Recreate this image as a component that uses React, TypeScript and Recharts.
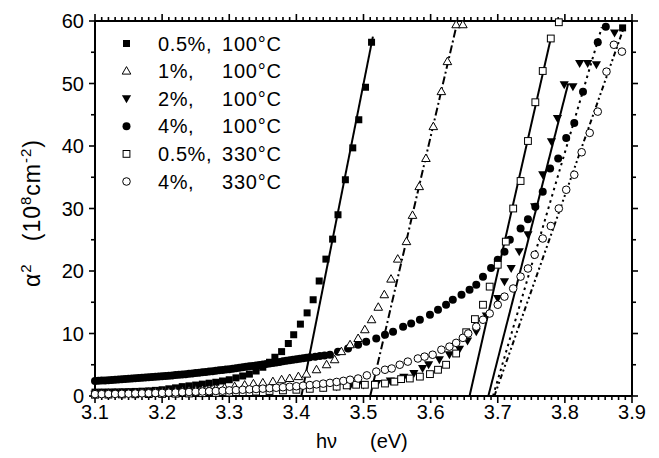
import React from 'react';
import { ScatterChart, Scatter, XAxis, YAxis, ReferenceLine } from 'recharts';

const FONT = '"Liberation Sans", Arial, Helvetica, sans-serif';
const W = 659;
const H = 458;

// ---------------- data ----------------
const seriesNames = ['0.5%, 100°C', '1%, 100°C', '2%, 100°C', '4%, 100°C', '0.5%, 330°C', '4%, 330°C'];

const sq05_100: number[][] = [
  [3.10,0.62],[3.11,0.63],[3.12,0.64],[3.13,0.66],[3.14,0.68],[3.15,0.70],[3.16,0.73],[3.17,0.77],[3.18,0.82],[3.19,0.90],
  [3.20,1.00],[3.21,1.15],[3.22,1.30],[3.23,1.50],[3.24,1.62],[3.25,1.75],[3.26,1.90],[3.27,2.05],[3.28,2.20],[3.29,2.40],
  [3.30,2.60],[3.31,2.90],[3.32,3.20],[3.33,3.50],[3.34,4.00],[3.35,4.60],[3.36,5.40],[3.368,6.20],[3.378,7.10],[3.388,8.40],
  [3.396,9.80],[3.406,11.5],[3.416,13.3],[3.425,15.4],[3.434,18.4],[3.444,21.9],[3.454,25.1],[3.462,29.0],[3.473,34.6],
  [3.484,39.7],[3.493,44.2],[3.503,49.4],[3.512,56.6],[3.886,58.9],
];

const tri1_100: number[][] = [
  [3.10,0.40],[3.11,0.42],[3.12,0.44],[3.13,0.46],[3.14,0.48],[3.15,0.50],[3.16,0.53],[3.17,0.56],[3.18,0.60],[3.19,0.64],
  [3.20,0.68],[3.21,0.72],[3.22,0.77],[3.23,0.82],[3.24,0.88],[3.25,0.95],[3.26,1.02],[3.27,1.10],[3.28,1.20],[3.293,1.30],
  [3.308,1.50],[3.323,1.75],[3.336,1.95],[3.35,2.10],[3.365,2.30],[3.378,2.60],[3.39,2.80],[3.403,3.10],[3.415,3.50],[3.43,4.20],
  [3.445,5.00],[3.457,5.80],[3.467,7.10],[3.48,8.20],[3.492,9.20],[3.502,10.6],[3.512,12.2],[3.522,14.2],[3.531,16.2],[3.541,18.7],
  [3.551,21.9],[3.564,24.7],[3.573,28.9],[3.583,33.5],[3.593,38.0],[3.604,43.1],[3.616,48.7],[3.625,53.5],[3.638,59.4],[3.648,59.4],
];

const inv2_100: number[][] = [
  [3.10,0.30],[3.12,0.32],[3.14,0.35],[3.16,0.38],[3.18,0.42],[3.20,0.46],[3.22,0.50],[3.24,0.55],[3.26,0.60],[3.28,0.66],
  [3.30,0.72],[3.32,0.80],[3.34,0.88],[3.36,0.96],[3.38,1.05],[3.40,1.15],[3.42,1.25],[3.44,1.35],[3.46,1.48],[3.48,1.60],
  [3.50,1.75],[3.52,2.00],[3.54,2.40],[3.56,3.00],[3.575,3.60],[3.588,4.40],[3.597,5.00],[3.613,5.80],[3.628,6.60],[3.643,7.50],
  [3.655,8.80],[3.668,10.3],[3.683,12.8],[3.700,15.6],[3.710,18.3],[3.720,20.4],[3.732,23.1],[3.745,25.8],[3.755,30.3],[3.767,35.4],
  [3.780,40.7],[3.789,44.4],[3.799,49.8],[3.812,49.5],[3.822,53.2],[3.834,53.2],[3.847,53.0],[3.874,58.1],
];

const circ4_100: number[][] = [
  [3.100,2.40],[3.105,2.43],[3.110,2.47],[3.115,2.50],[3.120,2.54],[3.125,2.57],[3.130,2.61],[3.135,2.64],[3.140,2.68],[3.145,2.71],
  [3.150,2.75],[3.155,2.79],[3.160,2.83],[3.165,2.87],[3.170,2.91],[3.175,2.95],[3.180,2.99],[3.185,3.03],[3.190,3.07],[3.195,3.11],
  [3.200,3.15],[3.205,3.20],[3.210,3.25],[3.215,3.30],[3.220,3.35],[3.225,3.40],[3.230,3.45],[3.235,3.50],[3.240,3.55],[3.245,3.61],
  [3.250,3.67],[3.255,3.73],[3.260,3.80],[3.265,3.86],[3.270,3.92],[3.275,3.98],[3.280,4.05],[3.285,4.11],[3.290,4.18],[3.295,4.24],
  [3.300,4.30],[3.305,4.37],[3.310,4.45],[3.315,4.52],[3.320,4.60],[3.325,4.67],[3.330,4.75],[3.335,4.82],[3.340,4.90],[3.345,4.97],
  [3.350,5.05],[3.355,5.12],[3.360,5.20],[3.365,5.29],[3.370,5.38],[3.375,5.46],[3.380,5.55],[3.385,5.63],[3.390,5.72],[3.395,5.81],
  [3.400,5.90],[3.405,5.97],[3.410,6.05],[3.415,6.12],[3.420,6.20],[3.428,6.30],[3.435,6.40],[3.442,6.50],[3.450,6.60],
  [3.462,7.10],[3.477,7.60],[3.492,8.20],[3.504,8.70],[3.519,9.20],
  [3.532,9.80],[3.544,10.3],[3.559,11.1],[3.571,11.6],[3.584,12.2],[3.599,13.0],[3.611,13.8],[3.623,14.6],[3.633,15.4],[3.646,16.2],
  [3.658,17.0],[3.668,17.8],[3.678,19.1],[3.690,20.5],[3.700,21.8],[3.710,23.1],[3.718,25.0],[3.734,26.8],[3.745,28.3],[3.756,30.3],
  [3.767,32.7],[3.778,36.4],[3.790,38.0],[3.802,41.3],[3.814,43.7],[3.827,48.7],[3.849,56.6],[3.861,59.1],
];

const sq05_330: number[][] = [
  [3.10,0.20],[3.12,0.22],[3.14,0.25],[3.16,0.28],[3.18,0.30],[3.20,0.33],[3.22,0.37],[3.24,0.40],[3.26,0.45],[3.28,0.50],
  [3.30,0.55],[3.32,0.62],[3.34,0.70],[3.36,0.80],[3.38,0.90],[3.40,1.00],[3.42,1.15],[3.44,1.30],[3.46,1.50],[3.475,1.70],
  [3.489,1.80],[3.502,1.80],[3.517,1.80],[3.532,2.00],[3.546,2.30],[3.556,2.70],[3.569,2.80],[3.584,3.10],[3.599,3.50],[3.611,4.20],
  [3.623,5.00],[3.638,6.80],[3.653,10.2],[3.666,12.3],[3.678,14.6],[3.688,17.5],[3.700,21.0],[3.712,24.7],[3.723,30.0],[3.734,34.4],
  [3.745,40.8],[3.756,47.0],[3.767,52.0],[3.779,57.2],[3.791,59.8],
];

const circ4_330: number[][] = [
  [3.10,0.30],[3.11,0.30],[3.12,0.31],[3.13,0.33],[3.14,0.35],[3.15,0.37],[3.16,0.40],[3.17,0.42],[3.18,0.44],[3.19,0.47],
  [3.20,0.50],[3.21,0.53],[3.22,0.56],[3.23,0.60],[3.24,0.64],[3.25,0.68],[3.26,0.72],[3.27,0.76],[3.28,0.80],[3.29,0.85],
  [3.30,0.90],[3.31,0.95],[3.32,1.00],[3.33,1.06],[3.34,1.12],[3.35,1.18],[3.36,1.25],[3.37,1.32],[3.38,1.40],[3.39,1.48],
  [3.40,1.56],[3.41,1.65],[3.42,1.75],[3.43,1.86],[3.44,1.98],[3.45,2.10],[3.46,2.25],[3.47,2.42],[3.48,2.60],[3.492,2.80],
  [3.505,3.30],[3.519,3.90],[3.532,4.20],[3.542,4.40],[3.554,5.00],[3.566,5.50],[3.581,6.00],[3.591,6.30],[3.603,6.60],[3.616,7.40],
  [3.628,7.90],[3.638,8.50],[3.648,9.30],[3.656,10.0],[3.668,11.1],[3.678,12.2],[3.688,13.2],[3.700,14.6],[3.710,15.9],[3.723,17.2],
  [3.734,19.1],[3.745,20.4],[3.755,22.6],[3.767,25.2],[3.779,27.2],[3.791,30.0],[3.802,33.0],[3.814,35.4],[3.825,39.0],[3.837,42.1],
  [3.849,45.5],[3.862,51.9],[3.873,56.2],[3.885,55.1],
];

// fitted straight lines: [x1, y1, x2, y2]
const fit05_100 = [3.4075, 0, 3.514, 57.5];
const fit1_100 = [3.51, 0, 3.638, 59];
const fit2_100 = [3.686, 0, 3.805, 50];
const fit4_100 = [3.693, 0, 3.855, 59];
const fit05_330 = [3.658, 0, 3.779, 57.2];
const fit4_330 = [3.695, 0, 3.888, 59];

const xMajorTicks = [3.1, 3.2, 3.3, 3.4, 3.5, 3.6, 3.7, 3.8, 3.9];
const xTickLabels = ['3.1', '3.2', '3.3', '3.4', '3.5', '3.6', '3.7', '3.8', '3.9'];
const yMajorTicks = [0, 10, 20, 30, 40, 50, 60];
const yTickLabels = ['0', '10', '20', '30', '40', '50', '60'];
const yMinorTicks = [5, 15, 25, 35, 45, 55];

// ---------------- helpers ----------------
const X_DOMAIN: [number, number] = [3.1, 3.9];
const Y_DOMAIN: [number, number] = [0, 60];

// plot area
const PLOT_LEFT = 95;
const PLOT_TOP = 21;
const PLOT_RIGHT = 632;
const PLOT_BOTTOM = 396;
const PX_PER_X = (PLOT_RIGHT - PLOT_LEFT) / (X_DOMAIN[1] - X_DOMAIN[0]);
const PX_PER_Y = (PLOT_BOTTOM - PLOT_TOP) / (Y_DOMAIN[1] - Y_DOMAIN[0]);

const toPts = (a: number[][]) => a.map(([x, y]) => ({ x, y }));
const xMinorTicks: number[] = [];
for (let i = 0; i < xMajorTicks.length - 1; i++) {
  for (let j = 1; j < 10; j++) xMinorTicks.push(+(xMajorTicks[i] + j * 0.01).toFixed(2));
}

const xLabelOf = (v: number) => {
  const i = xMajorTicks.findIndex((t) => Math.abs(t - v) < 1e-6);
  return i >= 0 ? xTickLabels[i] : '';
};
const yLabelOf = (v: number) => {
  const i = yMajorTicks.findIndex((t) => Math.abs(t - v) < 1e-6);
  return i >= 0 ? yTickLabels[i] : '';
};

const BottomLabel = (p: any) => (
  <text x={p.x} y={p.y + 23} textAnchor="middle" fontSize={20} fontFamily={FONT} fill="#000">
    {xLabelOf(p.payload.value)}
  </text>
);
const LeftLabel = (p: any) => (
  <text x={p.x - 11} y={p.y + 7} textAnchor="end" fontSize={20} fontFamily={FONT} fill="#000">
    {yLabelOf(p.payload.value)}
  </text>
);

const axisStroke = { stroke: '#000', strokeWidth: 2 };

// tick marks: short segments just outside the frame, drawn through the chart scales
type Seg = { a: { x: number; y: number }; b: { x: number; y: number } };
const tickSegs: Seg[] = [];
const addX = (v: number, len: number) => {
  const d = len / PX_PER_Y;
  tickSegs.push({ a: { x: v, y: Y_DOMAIN[0] }, b: { x: v, y: Y_DOMAIN[0] - d } });
  tickSegs.push({ a: { x: v, y: Y_DOMAIN[1] }, b: { x: v, y: Y_DOMAIN[1] + d } });
};
const addY = (v: number, len: number) => {
  const d = len / PX_PER_X;
  tickSegs.push({ a: { x: X_DOMAIN[0], y: v }, b: { x: X_DOMAIN[0] - d, y: v } });
  tickSegs.push({ a: { x: X_DOMAIN[1], y: v }, b: { x: X_DOMAIN[1] + d, y: v } });
};
xMajorTicks.forEach((v) => addX(v, 7));
xMinorTicks.forEach((v) => addX(v, 4));
yMajorTicks.forEach((v) => addY(v, 6));
yMinorTicks.forEach((v) => addY(v, 4));

// marker shapes
const mk = {
  fsq: (cx: number, cy: number) => <rect x={cx - 3.5} y={cy - 3.5} width={7} height={7} fill="#000" />,
  otri: (cx: number, cy: number) => (
    <polygon points={`${cx},${cy - 4.5} ${cx + 4.3},${cy + 3} ${cx - 4.3},${cy + 3}`} fill="#fff" stroke="#000" strokeWidth={1} />
  ),
  finv: (cx: number, cy: number) => (
    <polygon points={`${cx - 4.6},${cy - 3.5} ${cx + 4.6},${cy - 3.5} ${cx},${cy + 4.5}`} fill="#000" />
  ),
  fcirc: (cx: number, cy: number) => <circle cx={cx} cy={cy} r={4} fill="#000" />,
  osq: (cx: number, cy: number) => (
    <rect x={cx - 3.4} y={cy - 3.4} width={6.8} height={6.8} fill="#fff" stroke="#000" strokeWidth={1} />
  ),
  ocirc: (cx: number, cy: number) => <circle cx={cx} cy={cy} r={3.8} fill="#fff" stroke="#000" strokeWidth={1} />,
};

const series = [
  { name: seriesNames[0], data: sq05_100, marker: mk.fsq },
  { name: seriesNames[2], data: inv2_100, marker: mk.finv },
  { name: seriesNames[3], data: circ4_100, marker: mk.fcirc },
  { name: seriesNames[1], data: tri1_100, marker: mk.otri },
  { name: seriesNames[4], data: sq05_330, marker: mk.osq },
  { name: seriesNames[5], data: circ4_330, marker: mk.ocirc },
];

const legendMarkers = [mk.fsq, mk.otri, mk.finv, mk.fcirc, mk.osq, mk.ocirc];

const fits = [
  { seg: fit05_100, dash: undefined },
  { seg: fit1_100, dash: '8 3 2 3' },
  { seg: fit2_100, dash: undefined },
  { seg: fit4_100, dash: '2.5 4' },
  { seg: fit05_330, dash: undefined },
  { seg: fit4_330, dash: '5 3 2 3 2 3' },
];

export default function App() {
  return (
    <div style={{ position: 'absolute', left: 0, top: 0, width: W, height: H, background: '#fff' }}>
      <ScatterChart
        width={W}
        height={H}
        margin={{ top: PLOT_TOP - 10, right: W - PLOT_RIGHT - 10, bottom: H - PLOT_BOTTOM - 40, left: PLOT_LEFT - 60 }}
      >
        <XAxis dataKey="x" type="number" domain={X_DOMAIN} ticks={xMajorTicks} interval={0}
          tick={(p: any) => <BottomLabel {...p} />} tickSize={0} tickMargin={0} tickLine={false}
          axisLine={axisStroke} height={40} />
        <XAxis xAxisId="top" orientation="top" type="number" domain={X_DOMAIN} ticks={xMajorTicks} interval={0}
          tick={false} tickSize={0} tickLine={false} axisLine={axisStroke} height={10} />
        <YAxis dataKey="y" type="number" domain={Y_DOMAIN} ticks={yMajorTicks} interval={0}
          tick={(p: any) => <LeftLabel {...p} />} tickSize={0} tickMargin={0} tickLine={false}
          axisLine={axisStroke} width={60} />
        <YAxis yAxisId="right" orientation="right" type="number" domain={Y_DOMAIN} ticks={yMajorTicks} interval={0}
          tick={false} tickSize={0} tickLine={false} axisLine={axisStroke} width={10} />

        {tickSegs.map((s, i) => (
          <ReferenceLine key={'t' + i} segment={[s.a, s.b]} ifOverflow="visible" stroke="#000" strokeWidth={1.6} />
        ))}

        {series.map((s) => (
          <Scatter
            key={s.name}
            name={s.name}
            data={toPts(s.data)}
            dataKey="y"
            isAnimationActive={false}
            shape={(p: any) => s.marker(p.cx, p.cy)}
          />
        ))}
        {fits.map((f, i) => (
          <ReferenceLine
            key={i}
            segment={[
              { x: f.seg[0], y: f.seg[1] },
              { x: f.seg[2], y: f.seg[3] },
            ]}
            stroke="#000"
            strokeWidth={2}
            strokeDasharray={f.dash}
          />
        ))}
      </ScatterChart>
      <svg
        width={W}
        height={H}
        style={{ position: 'absolute', left: 0, top: 0, pointerEvents: 'none' }}
        fontFamily={FONT}
      >
        {seriesNames.map((n, i) => {
          const cy = 43.5 + i * 27.6;
          const parts = n.split(/,\s*/);
          return (
            <g key={n}>
              {legendMarkers[i](126.5, cy)}
              <text x={158} y={cy + 7} fontSize={20} letterSpacing={0.6} fill="#000">{parts[0] + ','}</text>
              <text x={222} y={cy + 7} fontSize={20} letterSpacing={0.8} fill="#000">{parts[1]}</text>
            </g>
          );
        })}
        <text y={448} fontSize={20} fill="#000">
          <tspan x={316}>hν</tspan>
          <tspan x={370}>(eV)</tspan>
        </text>
        <text transform="translate(40,213) rotate(-90)" textAnchor="middle" fontSize={23} letterSpacing={1} fill="#000" style={{ whiteSpace: 'pre' }}>
          α<tspan dy={-9} fontSize={15}>2</tspan><tspan dy={9}>   (10</tspan><tspan dy={-9} fontSize={15}>8</tspan><tspan dy={9}>cm</tspan><tspan dy={-9} fontSize={15}>-2</tspan><tspan dy={9}>)</tspan>
        </text>
      </svg>
    </div>
  );
}
